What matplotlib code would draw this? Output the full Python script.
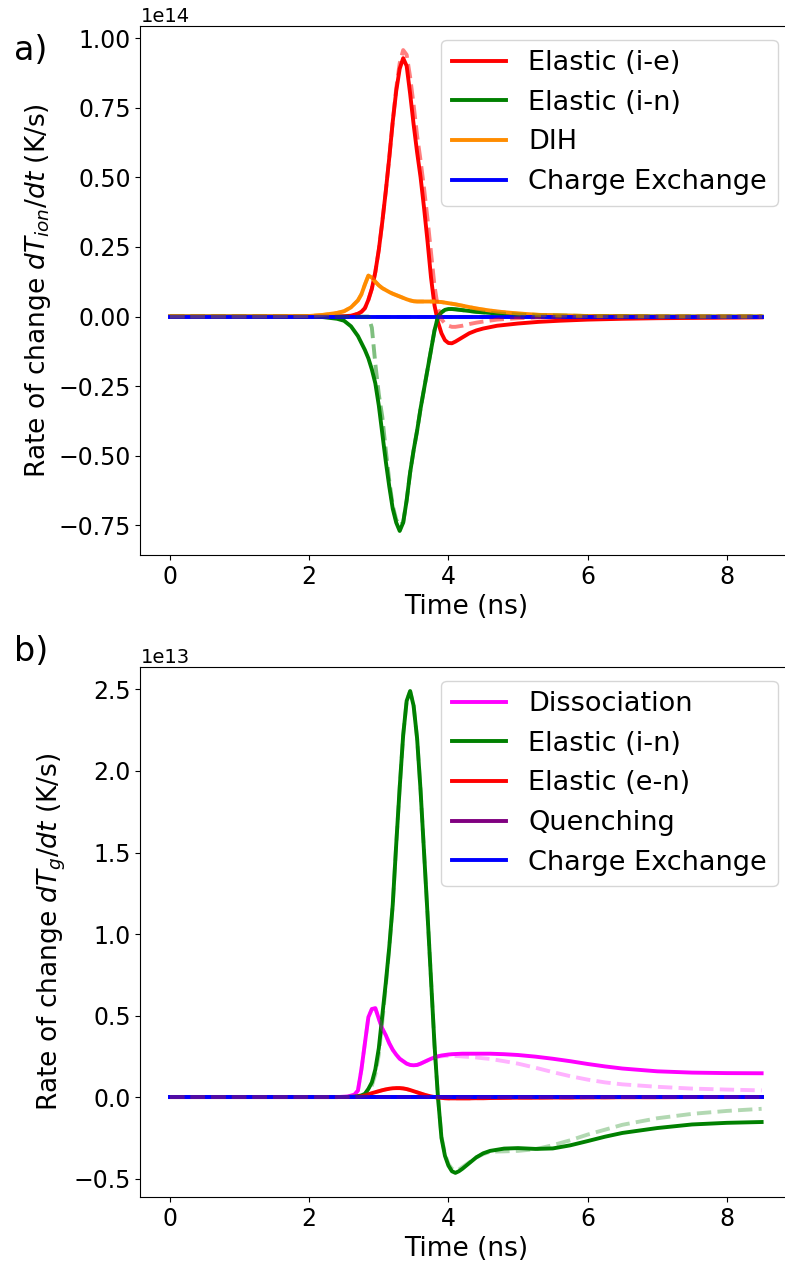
import matplotlib
matplotlib.use("Agg")
import matplotlib.pyplot as plt
import numpy as np

# ---------------- panel a) data (units of 1e14 K/s) ----------------
t_a = [0, 1.0, 2.0, 2.2, 2.4, 2.5, 2.6, 2.7, 2.75, 2.8, 2.85, 2.9, 2.95, 3.0, 3.05,
       3.1, 3.15, 3.2, 3.25, 3.3, 3.35, 3.4, 3.45, 3.5, 3.55, 3.6, 3.65, 3.7, 3.75,
       3.8, 3.85, 3.9, 3.95, 4.0, 4.05, 4.1, 4.2, 4.3, 4.4, 4.5, 4.7, 5.0, 5.3, 5.6,
       6.0, 6.5, 7.0, 7.5, 8.0, 8.5]

elastic_ie = [0, 0, 0, 0, 0.0, 0.001, 0.003, 0.01, 0.017, 0.03, 0.06, 0.10, 0.16, 0.24, 0.34,
              0.45, 0.57, 0.70, 0.81, 0.89, 0.928, 0.90, 0.80, 0.69, 0.59, 0.50, 0.39, 0.27, 0.14,
              0.04, -0.02, -0.06, -0.085, -0.095, -0.096, -0.09, -0.075, -0.06, -0.05, -0.043, -0.033, -0.025, -0.019, -0.015,
              -0.011, -0.008, -0.006, -0.005, -0.004, -0.003]
elastic_ie_ref = [0, 0, 0, 0, 0.0, 0.001, 0.003, 0.01, 0.017, 0.03, 0.06, 0.10, 0.16, 0.24, 0.34,
                  0.45, 0.57, 0.70, 0.82, 0.91, 0.957, 0.94, 0.86, 0.76, 0.65, 0.56, 0.46, 0.35, 0.23,
                  0.11, 0.03, -0.01, -0.025, -0.033, -0.037, -0.037, -0.033, -0.027, -0.022, -0.018, -0.011, -0.006, -0.003, -0.001,
                  0, 0, 0, 0, 0, 0]
elastic_in_a = [0, 0, 0, -0.002, -0.008, -0.015, -0.035, -0.07, -0.095, -0.12, -0.15, -0.19, -0.24, -0.32, -0.42,
                -0.52, -0.61, -0.69, -0.74, -0.77, -0.74, -0.66, -0.56, -0.48, -0.41, -0.33, -0.26, -0.19, -0.12,
                -0.05, 0.0, 0.015, 0.024, 0.027, 0.027, 0.026, 0.023, 0.02, 0.017, 0.015, 0.011, 0.007, 0.004, 0.003,
                0.002, 0.001, 0, 0, 0, 0]
elastic_in_a_ref = [0, 0, 0, 0, 0, 0, 0, 0, 0, 0, 0, -0.04, -0.17, -0.28, -0.36,
                    -0.48, -0.59, -0.68, -0.73, -0.75, -0.74, -0.66, -0.56, -0.48, -0.41, -0.33, -0.26, -0.19, -0.12,
                    -0.05, 0.0, 0.015, 0.024, 0.027, 0.027, 0.026, 0.023, 0.02, 0.017, 0.015, 0.011, 0.007, 0.004, 0.003,
                    0.002, 0.001, 0, 0, 0, 0]
dih = [0, 0, 0.002, 0.006, 0.013, 0.019, 0.033, 0.058, 0.08, 0.115, 0.147, 0.14, 0.125, 0.112, 0.102,
       0.095, 0.088, 0.082, 0.077, 0.072, 0.067, 0.062, 0.058, 0.055, 0.054, 0.054, 0.054, 0.054, 0.054,
       0.054, 0.053, 0.052, 0.05, 0.048, 0.046, 0.044, 0.039, 0.034, 0.029, 0.025, 0.018, 0.011, 0.006, 0.004,
       0.002, 0.001, 0, 0, 0, 0]
charge_exchange_a = [0] * len(t_a)

# ---------------- panel b) data (units of 1e13 K/s) ----------------
t_b = [0, 1, 2, 2.4, 2.55, 2.65, 2.7, 2.75, 2.8, 2.85, 2.9, 2.95, 3.0, 3.05, 3.1, 3.15,
       3.2, 3.25, 3.3, 3.35, 3.4, 3.45, 3.5, 3.55, 3.6, 3.65, 3.7, 3.75, 3.8, 3.85, 3.9,
       3.95, 4.0, 4.05, 4.1, 4.15, 4.2, 4.3, 4.4, 4.5, 4.6, 4.8, 5.0, 5.25, 5.5, 5.75,
       6.0, 6.25, 6.5, 7.0, 7.5, 8.0, 8.5]

dissociation = [0, 0, 0, 0, 0.003, 0.015, 0.04, 0.17, 0.33, 0.49, 0.54, 0.545, 0.48, 0.42, 0.38, 0.33,
                0.29, 0.26, 0.235, 0.22, 0.205, 0.197, 0.195, 0.197, 0.205, 0.215, 0.225, 0.235, 0.243, 0.25, 0.255,
                0.258, 0.261, 0.263, 0.264, 0.265, 0.266, 0.266, 0.266, 0.266, 0.266, 0.263, 0.258, 0.248, 0.235, 0.22,
                0.203, 0.188, 0.175, 0.158, 0.15, 0.147, 0.146]
dissociation_ref = [0, 0, 0, 0, 0.003, 0.015, 0.04, 0.17, 0.33, 0.49, 0.54, 0.545, 0.48, 0.42, 0.38, 0.33,
                    0.29, 0.26, 0.235, 0.22, 0.205, 0.197, 0.195, 0.197, 0.205, 0.215, 0.225, 0.235, 0.243, 0.248, 0.25,
                    0.252, 0.253, 0.253, 0.252, 0.251, 0.249, 0.246, 0.243, 0.238, 0.234, 0.22, 0.205, 0.18, 0.153, 0.128,
                    0.107, 0.09, 0.078, 0.063, 0.052, 0.046, 0.041]
elastic_in_b = [0, 0, 0, 0, 0.001, 0.003, 0.006, 0.01, 0.02, 0.05, 0.09, 0.17, 0.30, 0.50, 0.70, 0.92,
                1.18, 1.55, 1.90, 2.22, 2.43, 2.49, 2.40, 2.20, 1.88, 1.50, 1.12, 0.72, 0.32, 0.0, -0.25,
                -0.36, -0.42, -0.455, -0.465, -0.455, -0.44, -0.405, -0.37, -0.345, -0.33, -0.316, -0.313, -0.318, -0.315, -0.296,
                -0.27, -0.243, -0.22, -0.19, -0.168, -0.158, -0.153]
elastic_in_b_ref = [0, 0, 0, 0, 0.001, 0.003, 0.005, 0.008, 0.015, 0.035, 0.07, 0.14, 0.26, 0.46, 0.68, 0.91,
                    1.18, 1.55, 1.90, 2.22, 2.43, 2.49, 2.40, 2.20, 1.88, 1.50, 1.12, 0.72, 0.32, 0.0, -0.24,
                    -0.35, -0.41, -0.44, -0.45, -0.445, -0.43, -0.40, -0.37, -0.35, -0.335, -0.333, -0.33, -0.32, -0.295, -0.265,
                    -0.23, -0.20, -0.17, -0.13, -0.103, -0.085, -0.072]
elastic_en = [0, 0, 0, 0, 0, 0, 0.002, 0.005, 0.01, 0.017, 0.024, 0.03, 0.036, 0.042, 0.047, 0.051,
              0.054, 0.055, 0.055, 0.053, 0.049, 0.043, 0.036, 0.029, 0.022, 0.015, 0.009, 0.004, 0.0, -0.003, -0.005,
              -0.007, -0.008, -0.008, -0.008, -0.008, -0.008, -0.008, -0.007, -0.007, -0.006, -0.005, -0.004, -0.004, -0.003, -0.003,
              -0.002, -0.002, -0.001, -0.001, 0, 0, 0]
quenching = [0] * len(t_b)
charge_exchange_b = [0] * len(t_b)

LW = 2.8

fig = plt.figure(figsize=(7.85, 12.7), dpi=100)
ax1 = fig.add_axes([0.1789, 0.5630, 0.829, 0.4165])
ax2 = fig.add_axes([0.1789, 0.0575, 0.829, 0.4173])

sa = 1e14
l1, = ax1.plot(t_a, np.array(elastic_ie) * sa, color='red', lw=LW, label='Elastic (i-e)')
l2, = ax1.plot(t_a, np.array(elastic_in_a) * sa, color='green', lw=LW, label='Elastic (i-n)')
l3, = ax1.plot(t_a, np.array(dih) * sa, color='darkorange', lw=LW, label='DIH')
l4, = ax1.plot(t_a, np.array(charge_exchange_a) * sa, color='blue', lw=LW, label='Charge Exchange')
ax1.plot(t_a, np.array(elastic_ie_ref) * sa, color='red', lw=LW, ls='--', alpha=0.5)
ax1.plot(t_a, np.array(elastic_in_a_ref) * sa, color='green', lw=LW, ls='--', alpha=0.5)
ax1.plot(t_a, np.array(dih) * sa, color='darkorange', lw=LW, ls='--', alpha=0.5)
ax1.plot(t_a, np.array(charge_exchange_a) * sa, color='blue', lw=LW, ls='--', alpha=0.5)
ax1.legend(handles=[l1, l2, l3, l4], loc='upper right', fontsize=19.5)

sb = 1e13
m1, = ax2.plot(t_b, np.array(dissociation) * sb, color='magenta', lw=LW, label='Dissociation')
m2, = ax2.plot(t_b, np.array(elastic_in_b) * sb, color='green', lw=LW, label='Elastic (i-n)')
m3, = ax2.plot(t_b, np.array(elastic_en) * sb, color='red', lw=LW, label='Elastic (e-n)')
m4, = ax2.plot(t_b, np.array(quenching) * sb, color='purple', lw=LW, label='Quenching')
m5, = ax2.plot(t_b, np.array(charge_exchange_b) * sb, color='blue', lw=LW, label='Charge Exchange')
ax2.plot(t_b, np.array(dissociation_ref) * sb, color='magenta', lw=LW, ls='--', alpha=0.3)
ax2.plot(t_b, np.array(elastic_in_b_ref) * sb, color='green', lw=LW, ls='--', alpha=0.3)
ax2.plot(t_b, np.array(elastic_en) * sb, color='red', lw=LW, ls='--', alpha=0.3)
ax2.plot(t_b, np.array(quenching) * sb, color='purple', lw=LW, ls='--', alpha=0.3)
ax2.plot(t_b, np.array(charge_exchange_b) * sb, color='blue', lw=LW, ls='--', alpha=0.3)
ax2.legend(handles=[m1, m2, m3, m4, m5], loc='upper right', fontsize=19.5)

for ax in (ax1, ax2):
    ax.tick_params(labelsize=17)
    ax.yaxis.get_offset_text().set_fontsize(14)
    ax.set_xlabel('Time (ns)', fontsize=19)
    ax.set_xticks([0, 2, 4, 6, 8])

ax1.set_ylabel('Rate of change $dT_{ion}/dt$ (K/s)', fontsize=19)
ax2.set_ylabel('Rate of change $dT_{g}/dt$ (K/s)', fontsize=19)

fig.text(0.018, 0.960, 'a)', fontsize=24, ha='left', va='center')
fig.text(0.018, 0.487, 'b)', fontsize=24, ha='left', va='center')

fig.savefig('out.png', dpi=100)
